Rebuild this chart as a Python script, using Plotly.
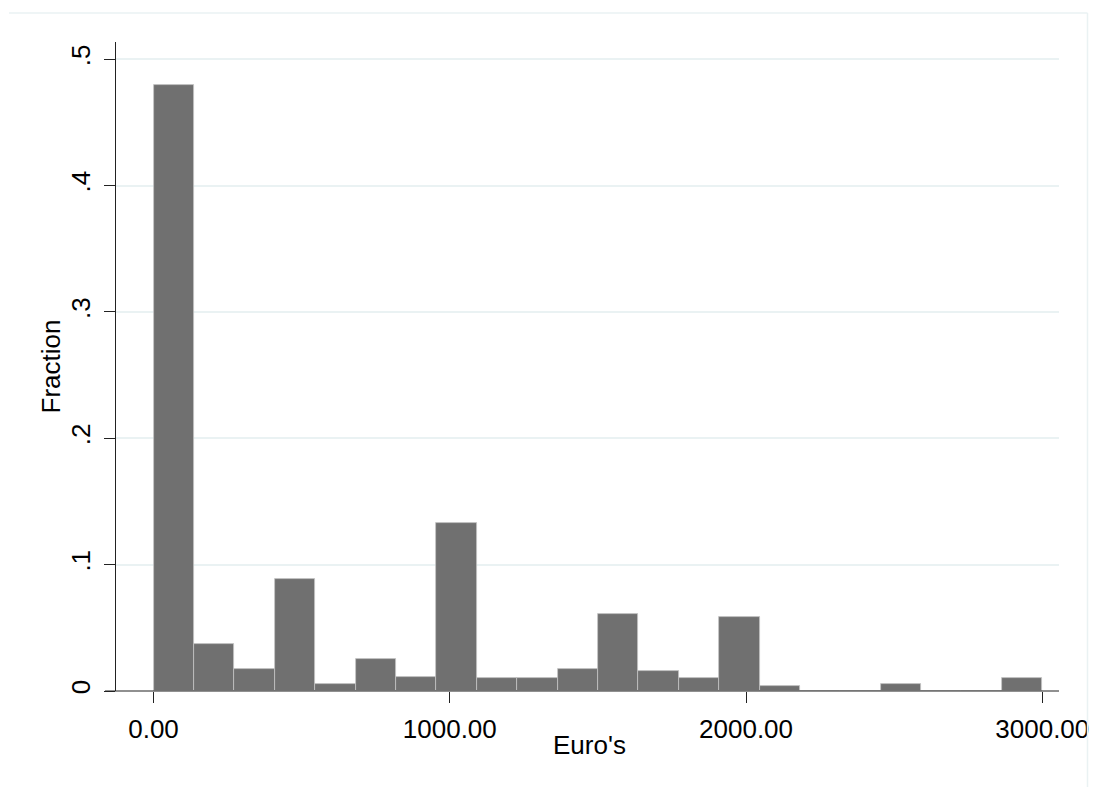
import plotly.graph_objects as go

# ---- data ----
bin_start = 0.0
bin_width = 3000.0 / 22
fractions = [0.480, 0.0374, 0.0178, 0.0883, 0.0058, 0.0257, 0.0114, 0.1333,
             0.0101, 0.0100, 0.0178, 0.0610, 0.0157, 0.0101, 0.0589, 0.0037,
             0.0, 0.0, 0.0058, 0.0, 0.0, 0.0101]
x_ticks = [0, 1000, 2000, 3000]
x_tick_labels = ["0.00", "1000.00", "2000.00", "3000.00"]
y_ticks = [0, 0.1, 0.2, 0.3, 0.4, 0.5]
y_tick_labels = ["0", ".1", ".2", ".3", ".4", ".5"]
x_title = "Euro's"
y_title = "Fraction"

centers = [bin_start + (i + 0.5) * bin_width for i in range(len(fractions))]

W, H = 1093, 787
L, R, T, B = 116, 34, 42, 96
FONT = "Liberation Sans, Arial, sans-serif"
FS = 26

pw = W - L - R
ph = H - T - B


def px_x(px):
    return (px - L) / pw


def px_y(py):
    return (H - B - py) / ph


fig = go.Figure(go.Bar(
    x=centers, y=fractions, width=bin_width,
    marker=dict(color="#707070", line=dict(color="#c4c4c4", width=0.8)),
))

fig.update_layout(
    width=W, height=H,
    margin=dict(l=L, r=R, t=T, b=B, pad=0, autoexpand=False),
    paper_bgcolor="white", plot_bgcolor="white",
    showlegend=False, bargap=0,
    font=dict(family=FONT, size=FS, color="black"),
    xaxis=dict(
        range=[-126.6, 3056.4], tickvals=x_ticks, ticktext=x_tick_labels,
        showgrid=False, zeroline=False, showline=False, automargin=False,
        ticks="outside", ticklen=11, tickwidth=1.2, tickcolor="#222",
        tickfont=dict(size=FS), ticklabelstandoff=4,
    ),
    yaxis=dict(
        range=[0, 0.5137], tickvals=y_ticks, ticktext=y_tick_labels,
        tickangle=-90, automargin=False,
        showgrid=True, gridcolor="#EAF2F3", gridwidth=1.5,
        zeroline=False, showline=True, linecolor="#222", linewidth=1.2,
        ticks="outside", ticklen=11, tickwidth=1.2, tickcolor="#222",
        tickfont=dict(size=FS), ticklabelstandoff=4,
    ),
    annotations=[
        dict(text=x_title, xref="paper", yref="paper",
             x=px_x(589), y=px_y(745), xanchor="center", yanchor="middle",
             showarrow=False, font=dict(size=FS)),
        dict(text=y_title, xref="paper", yref="paper", textangle=-90,
             x=px_x(50), y=px_y(366.5), xanchor="center", yanchor="middle",
             showarrow=False, font=dict(size=FS)),
    ],
    shapes=[
        # x axis line extending a bit left of the y axis (Stata style)
        dict(type="line", xref="paper", yref="paper",
             x0=px_x(105), x1=1.0, y0=0, y1=0,
             line=dict(color="#222", width=1.2), layer="above"),
        # faint graph region border (top and right)
        dict(type="line", xref="paper", yref="paper",
             x0=px_x(9), x1=px_x(1087.5), y0=px_y(13), y1=px_y(13),
             line=dict(color="#EAF2F3", width=1.5), layer="above"),
        dict(type="line", xref="paper", yref="paper",
             x0=px_x(1087.5), x1=px_x(1087.5), y0=px_y(13), y1=px_y(800),
             line=dict(color="#EAF2F3", width=1.5), layer="above"),
    ],
)

fig.write_html("out.html")
